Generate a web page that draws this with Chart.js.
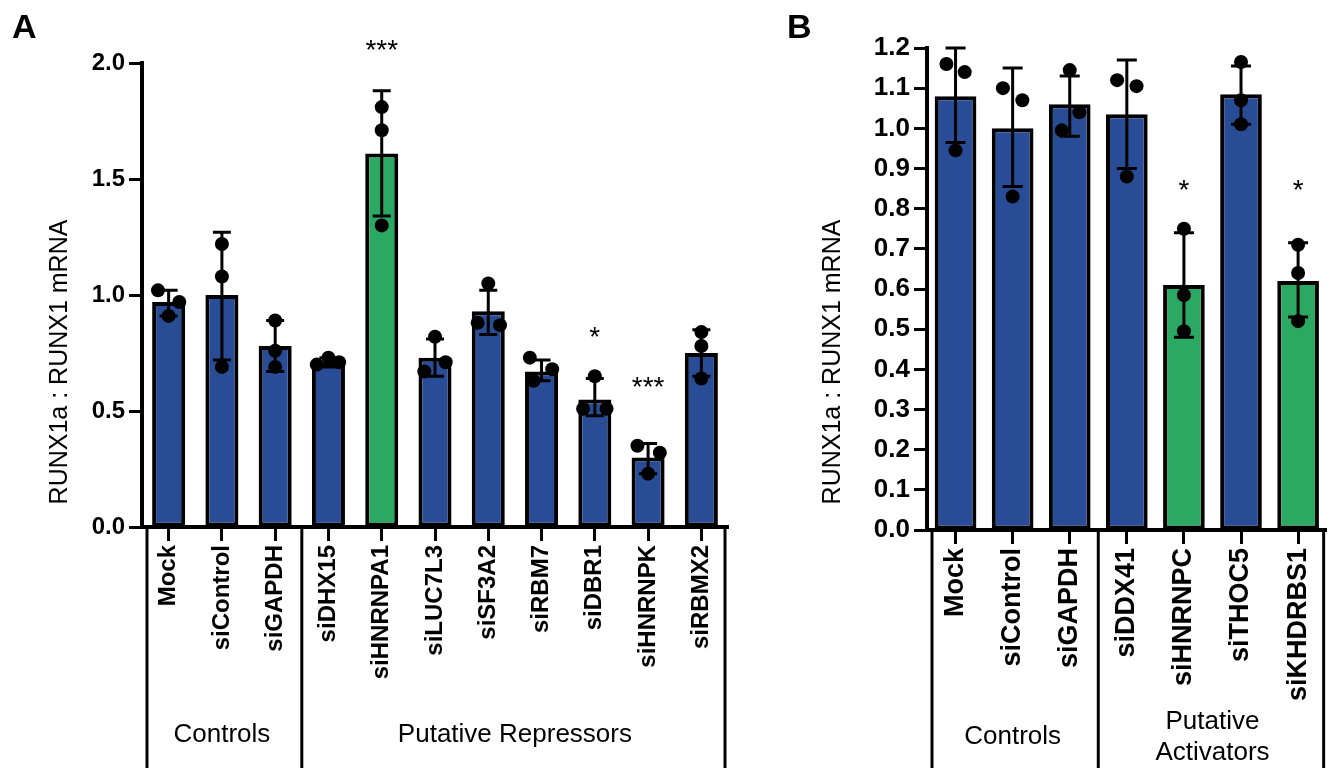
<!DOCTYPE html>
<html lang="en">
<head>
    <meta charset="UTF-8">
    <title>RUNX1a : RUNX1 mRNA</title>
    <script type="text/javascript" src="https://cdn.jsdelivr.net/npm/chart.js@4.4.1/dist/chart.umd.min.js"></script>
    <style type="text/css">
        html, body {
            margin: 0; padding: 0; background: #fff;
        }
        #wrap {
            position: relative; width: 1335px; height: 768px; overflow: hidden;
        }
        #wrap canvas {
            position: absolute; top: 0;
        }
        #chartA { left: 0; }
        #chartB { left: 760px; }
    </style>
</head>

<body>
    <div id="wrap">
        <canvas id="chartA" width="745" height="768" style="width:745px;height:768px"></canvas>
        <canvas id="chartB" width="575" height="768" style="width:575px;height:768px"></canvas>
    </div>

    <script>
        // ---- Panel A data ----
        const catsA = ['Mock', 'siControl', 'siGAPDH', 'siDHX15', 'siHNRNPA1', 'siLUC7L3', 'siSF3A2', 'siRBM7', 'siDBR1', 'siHNRNPK', 'siRBMX2'];
        const meanA = [0.97, 1.00, 0.78, 0.71, 1.61, 0.73, 0.93, 0.67, 0.55, 0.30, 0.75];
        const errLowA = [0.91, 0.72, 0.67, 0.69, 1.34, 0.65, 0.83, 0.63, 0.48, 0.23, 0.65];
        const errHighA = [1.02, 1.27, 0.89, 0.73, 1.88, 0.81, 1.02, 0.72, 0.64, 0.36, 0.85];
        const repsA = [
            [1.02, 0.97, 0.91], [1.22, 1.08, 0.69], [0.89, 0.76, 0.69], [0.70, 0.73, 0.71],
            [1.81, 1.71, 1.30], [0.82, 0.71, 0.67], [1.05, 0.88, 0.87], [0.73, 0.68, 0.63],
            [0.65, 0.51, 0.51], [0.35, 0.32, 0.23], [0.84, 0.78, 0.64]
        ];
        // horizontal spread of the replicate dots, in category units
        const jitterA = [
            [-0.2, 0.2, 0], [0, 0, 0], [0, 0, 0], [-0.22, 0, 0.2],
            [0, 0, 0], [0, 0.2, -0.2], [0, -0.2, 0.22], [-0.22, 0.2, -0.15],
            [0, -0.22, 0.22], [-0.2, 0.22, 0], [0, 0, 0]
        ];
        const hitsA = ['siHNRNPA1'];
        const sigA = ['', '', '', '', '***', '', '', '', '*', '***', ''];
        const sigYA = [0, 0, 0, 0, 2.09, 0, 0, 0, 0.85, 0.635, 0];
        const groupLabelsA = ['Controls', 'Putative Repressors'];
        const groupStartA = [0, 3];
        const groupEndA = [2, 10];

        // ---- Panel B data ----
        const catsB = ['Mock', 'siControl', 'siGAPDH', 'siDDX41', 'siHNRNPC', 'siTHOC5', 'siKHDRBS1'];
        const meanB = [1.08, 1.00, 1.06, 1.035, 0.61, 1.085, 0.62];
        const errLowB = [0.965, 0.855, 0.98, 0.90, 0.48, 1.01, 0.53];
        const errHighB = [1.20, 1.15, 1.13, 1.17, 0.74, 1.155, 0.715];
        const repsB = [
            [1.16, 1.14, 0.945], [1.10, 1.07, 0.83], [1.145, 1.04, 0.995], [1.12, 1.105, 0.88],
            [0.75, 0.585, 0.495], [1.165, 1.07, 1.01], [0.71, 0.64, 0.52]
        ];
        const jitterB = [
            [-0.16, 0.16, 0], [-0.17, 0.17, 0], [0, 0.17, -0.14], [-0.17, 0.17, 0],
            [0, 0, 0], [0, 0, 0], [0, 0, 0]
        ];
        const hitsB = ['siHNRNPC', 'siKHDRBS1'];
        const sigB = ['', '', '', '', '*', '', '*'];
        const sigYB = [0, 0, 0, 0, 0.866, 0, 0.866];
        const groupLabelsB = ['Controls', 'Putative\nActivators'];
        const groupStartB = [0, 3];
        const groupEndB = [2, 6];

        const BLUE = '#284c96';
        const GREEN = '#2ba862';
        const FONT = '"Liberation Sans", Arial, sans-serif';

        // Builds one bar panel with dots, error bars and the bracket labels underneath
        function makePanel(canvasId, p) {
            const n = p.cats.length;
            const points = [];
            p.reps.forEach((vals, i) => {
                vals.forEach((v, k) => points.push({ x: i + p.jitter[i][k], y: v }));
            });

            // error bars go on top of the bars, under the dots
            const errorBars = {
                id: 'errorBars',
                afterDatasetDraw(chart, args) {
                    if (args.index !== 0) return;
                    const ctx = chart.ctx, x = chart.scales.x, y = chart.scales.y;
                    ctx.save();
                    ctx.strokeStyle = '#000';
                    ctx.lineWidth = 3;
                    for (let i = 0; i < n; i++) {
                        const px = x.getPixelForValue(i);
                        const lo = y.getPixelForValue(p.errLow[i]);
                        const hi = y.getPixelForValue(p.errHigh[i]);
                        ctx.beginPath();
                        ctx.moveTo(px, lo); ctx.lineTo(px, hi);
                        ctx.moveTo(px - p.cap, lo); ctx.lineTo(px + p.cap, lo);
                        ctx.moveTo(px - p.cap, hi); ctx.lineTo(px + p.cap, hi);
                        ctx.stroke();
                    }
                    ctx.restore();
                }
            };

            // panel letter, y title, significance stars, group brackets
            const decor = {
                id: 'decor',
                afterDraw(chart) {
                    const ctx = chart.ctx, x = chart.scales.x, xj = chart.scales.xj, y = chart.scales.y;
                    const area = chart.chartArea;
                    ctx.save();
                    ctx.fillStyle = '#000';

                    ctx.font = 'bold 34px ' + FONT;
                    ctx.textAlign = 'left';
                    ctx.textBaseline = 'alphabetic';
                    ctx.fillText(p.letter, p.letterX, 38);

                    ctx.save();
                    ctx.translate(p.titleX, 362);
                    ctx.rotate(-Math.PI / 2);
                    ctx.font = '25px ' + FONT;
                    ctx.textAlign = 'center';
                    ctx.textBaseline = 'middle';
                    ctx.fillText('RUNX1a : RUNX1 mRNA', 0, 0);
                    ctx.restore();

                    ctx.font = '28px ' + FONT;
                    ctx.textAlign = 'center';
                    ctx.textBaseline = 'alphabetic';
                    p.sig.forEach((s, i) => {
                        if (!s) return;
                        ctx.fillText(s, x.getPixelForValue(i), y.getPixelForValue(p.sigY[i]) + 0.585 * 28);
                    });

                    // bracket lines below the axis
                    const bounds = [];
                    p.groupStart.forEach((s, g) => {
                        bounds.push(s - 0.5);
                        if (g === p.groupStart.length - 1) bounds.push(p.groupEnd[g] + 0.5);
                    });
                    ctx.strokeStyle = '#000';
                    ctx.lineWidth = 3;
                    bounds.forEach((b, k) => {
                        let px = xj.getPixelForValue(b);
                        if (k === 0) px += 5;
                        if (k === bounds.length - 1) px -= 3;
                        ctx.beginPath();
                        ctx.moveTo(px, area.bottom);
                        ctx.lineTo(px, chart.height);
                        ctx.stroke();
                    });

                    ctx.font = '26px ' + FONT;
                    ctx.textAlign = 'center';
                    ctx.textBaseline = 'middle';
                    p.groupLabels.forEach((label, g) => {
                        const cx = (x.getPixelForValue(p.groupStart[g]) + x.getPixelForValue(p.groupEnd[g])) / 2;
                        const lines = label.split('\n');
                        const top = p.groupY - (lines.length - 1) * 31 / 2;
                        lines.forEach((t, k) => ctx.fillText(t, cx, top + k * 31));
                    });
                    ctx.restore();
                }
            };

            const config = {
                data: {
                    labels: p.cats,
                    datasets: [
                        {
                            type: 'bar',
                            data: p.mean,
                            backgroundColor: p.cats.map(c => p.hits.includes(c) ? GREEN : BLUE),
                            borderColor: '#000',
                            borderWidth: 4,
                            borderSkipped: false,
                            grouped: false,
                            barPercentage: p.barPct,
                            categoryPercentage: 1,
                            order: 2
                        },
                        {
                            type: 'scatter',
                            data: points,
                            xAxisID: 'xj',
                            pointRadius: p.dot,
                            pointBackgroundColor: '#000',
                            pointBorderWidth: 0,
                            order: 1
                        }
                    ]
                },
                options: {
                    responsive: false,
                    animation: false,
                    layout: { padding: { left: 0, top: p.top, right: p.padRight, bottom: 0 } },
                    plugins: {
                        legend: { display: false },
                        tooltip: { enabled: false }
                    },
                    scales: {
                        x: {
                            type: 'category',
                            offset: true,
                            grid: { offset: false, drawOnChartArea: false, tickLength: 14, tickWidth: 3, tickColor: '#000' },
                            border: { color: '#000', width: 4 },
                            ticks: {
                                color: '#000',
                                font: { family: FONT, size: p.xFont, weight: 'bold' },
                                minRotation: 90, maxRotation: 90, autoSkip: false, padding: 4
                            },
                            afterFit: s => { s.height = p.xHeight; }
                        },
                        xj: { type: 'linear', display: false, min: -0.5, max: n - 0.5, position: 'bottom' },
                        y: {
                            min: 0, max: p.yMax,
                            ticks: {
                                stepSize: p.step, color: '#000', padding: 4,
                                font: { family: FONT, size: p.yFont, weight: 'bold' },
                                callback: v => v.toFixed(1)
                            },
                            grid: { drawOnChartArea: false, tickLength: 13, tickWidth: 3, tickColor: '#000' },
                            border: { color: '#000', width: 4 },
                            afterFit: s => { s.width = p.yWidth; }
                        }
                    }
                },
                plugins: [errorBars, decor]
            };
            return new Chart(document.getElementById(canvasId), config);
        }

        makePanel('chartA', {
            cats: catsA, mean: meanA, errLow: errLowA, errHigh: errHighA, reps: repsA, jitter: jitterA,
            hits: hitsA, sig: sigA, sigY: sigYA,
            groupLabels: groupLabelsA, groupStart: groupStartA, groupEnd: groupEndA,
            letter: 'A', letterX: 12, titleX: 60, groupY: 735,
            yMax: 2.0, step: 0.5, top: 63, yWidth: 142, xHeight: 241, padRight: 17,
            barPct: 0.62, cap: 9, dot: 7, xFont: 24, yFont: 24
        });

        makePanel('chartB', {
            cats: catsB, mean: meanB, errLow: errLowB, errHigh: errHighB, reps: repsB, jitter: jitterB,
            hits: hitsB, sig: sigB, sigY: sigYB,
            groupLabels: groupLabelsB, groupStart: groupStartB, groupEnd: groupEndB,
            letter: 'B', letterX: 27, titleX: 73, groupY: 737,
            yMax: 1.2, step: 0.1, top: 48, yWidth: 167, xHeight: 238, padRight: 2,
            barPct: 0.73, cap: 10, dot: 7, xFont: 27, yFont: 26
        });
    </script>
</body>

</html>
